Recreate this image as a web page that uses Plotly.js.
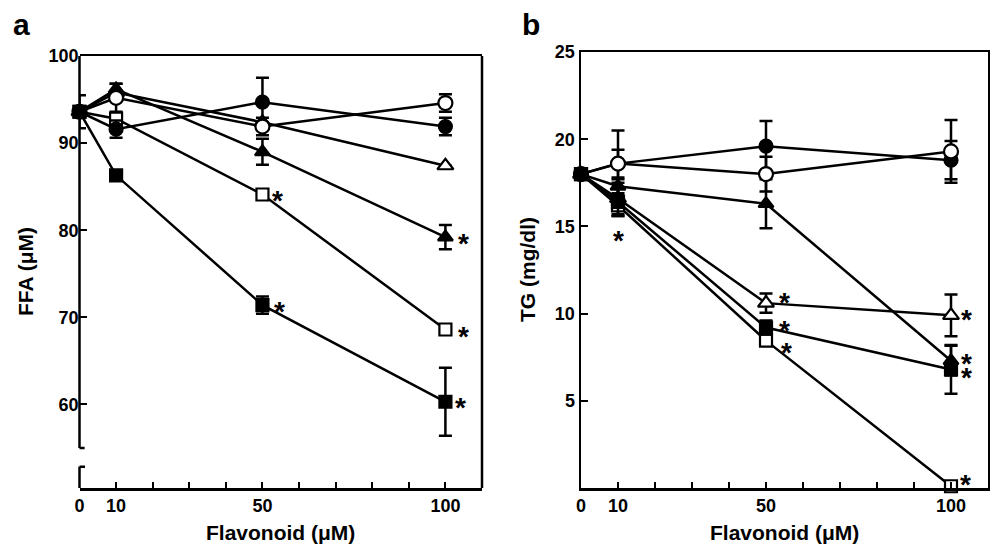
<!DOCTYPE html>
<html>
<head>
<meta charset="utf-8">
<script src="https://cdn.plot.ly/plotly-3.0.1.min.js"></script>
<style>html,body{margin:0;padding:0;background:#fff;}#chart{width:990px;height:545px;}</style>
</head>
<body>
<div id="chart"></div>
<script>
// ---------- data ----------
const doses = [0, 10, 50, 100];
const xTickVals = [0, 10, 20, 30, 40, 50, 60, 70, 80, 90, 100];
const xTickText = ['0', '10', '', '', '', '50', '', '', '', '', '100'];
const ffaTickVals = [60, 70, 80, 90, 100];
const tgTickVals = [5, 10, 15, 20, 25];

// Panel a: FFA (µM)
const ffaFilledCircle = [93.6, 91.6, 94.7, 91.9];
const ffaFilledCircleErr = [1.9, 1.0, 2.8, 1.0];
const ffaOpenCircle = [93.6, 95.2, 91.9, 94.6];
const ffaOpenCircleErr = [0, 1.6, 1.0, 1.0];
const ffaFilledTriangle = [93.6, 96.2, 89.0, 79.2];
const ffaFilledTriangleErr = [0, 0.6, 1.5, 1.4];
const ffaOpenTriangle = [93.6, 95.8, 92.4, 87.4];
const ffaOpenTriangleErr = [0, 0, 0, 0];
const ffaOpenSquare = [93.6, 92.8, 84.1, 68.6];
const ffaOpenSquareErr = [0, 0.5, 0, 0];
const ffaFilledSquare = [93.6, 86.3, 71.4, 60.3];
const ffaFilledSquareErr = [0, 0, 1.0, 3.9];

// Panel b: TG (mg/dl)
const tgFilledCircle = [18.0, 18.6, 19.6, 18.8];
const tgFilledCircleErr = [0, 0.8, 1.45, 1.1];
const tgOpenCircle = [18.0, 18.6, 18.0, 19.3];
const tgOpenCircleErr = [0, 1.9, 1.0, 1.8];
const tgFilledTriangle = [18.0, 17.3, 16.3, 7.3];
const tgFilledTriangleErr = [0, 0.4, 1.4, 0.85];
const tgOpenTriangle = [18.0, 16.6, 10.6, 9.9];
const tgOpenTriangleErr = [0, 0.9, 0.55, 1.2];
const tgOpenSquare = [18.0, 16.2, 8.45, 0.1];
const tgOpenSquareErr = [0, 0.6, 0, 0];
const tgFilledSquare = [18.0, 16.4, 9.2, 6.8];
const tgFilledSquareErr = [0, 0.8, 0.4, 1.4];

// axis break on panel a's y axis (value range that is cut out)
const ffaBreak = [52.85, 55.0];
const ffaRange = [50.4, 100];

// ---------- styling ----------
const FONT = 'Liberation Sans, Arial, Helvetica, sans-serif';
const styles = {
  filledCircle:   {symbol: 'circle', fill: 'black', size: 13},
  openCircle:     {symbol: 'circle', fill: 'white', size: 14},
  filledTriangle: {symbol: 'triangle-up', fill: 'black', size: 13},
  openTriangle:   {symbol: 'triangle-up', fill: 'white', size: 14},
  openSquare:     {symbol: 'square', fill: 'white', size: 12},
  filledSquare:   {symbol: 'square', fill: 'black', size: 12}
};

function mk(y, err, style, xa, ya) {
  const s = styles[style];
  return {
    x: doses, y: y, xaxis: xa, yaxis: ya, type: 'scatter', mode: 'lines+markers',
    showlegend: false, hoverinfo: 'skip', cliponaxis: false,
    line: {color: 'black', width: 2.5},
    marker: {symbol: s.symbol, size: s.size, color: s.fill, line: {color: 'black', width: 2.2}},
    error_y: {type: 'data', array: err, visible: true, color: 'black', thickness: 2.5, width: 6.5}
  };
}

const traces = [
  mk(ffaOpenTriangle, ffaOpenTriangleErr, 'openTriangle', 'x', 'y'),
  mk(ffaFilledTriangle, ffaFilledTriangleErr, 'filledTriangle', 'x', 'y'),
  mk(ffaOpenSquare, ffaOpenSquareErr, 'openSquare', 'x', 'y'),
  mk(ffaFilledCircle, ffaFilledCircleErr, 'filledCircle', 'x', 'y'),
  mk(ffaOpenCircle, ffaOpenCircleErr, 'openCircle', 'x', 'y'),
  mk(ffaFilledSquare, ffaFilledSquareErr, 'filledSquare', 'x', 'y'),

  mk(tgFilledTriangle, tgFilledTriangleErr, 'filledTriangle', 'x2', 'y2'),
  mk(tgOpenTriangle, tgOpenTriangleErr, 'openTriangle', 'x2', 'y2'),
  mk(tgOpenSquare, tgOpenSquareErr, 'openSquare', 'x2', 'y2'),
  mk(tgFilledCircle, tgFilledCircleErr, 'filledCircle', 'x2', 'y2'),
  mk(tgOpenCircle, tgOpenCircleErr, 'openCircle', 'x2', 'y2'),
  mk(tgFilledSquare, tgFilledSquareErr, 'filledSquare', 'x2', 'y2')
];

// significance stars: [series, dose index, axis suffix, dx px, dy px]
const stars = [
  [ffaOpenSquare, 2, '', 15, 1],
  [ffaFilledSquare, 2, '', 17, 1],
  [ffaFilledTriangle, 3, '', 18, 1],
  [ffaOpenSquare, 3, '', 18, 0],
  [ffaFilledSquare, 3, '', 15, 1],
  [tgFilledSquare, 1, '2', 0, -32],
  [tgOpenTriangle, 2, '2', 18, 8],
  [tgFilledSquare, 2, '2', 18, 4],
  [tgOpenSquare, 2, '2', 20, -5],
  [tgOpenTriangle, 3, '2', 15, 3],
  [tgFilledTriangle, 3, '2', 15, 4],
  [tgFilledSquare, 3, '2', 15, -1],
  [tgOpenSquare, 3, '2', 14, 9]
];

const annotations = stars.map(([ser, i, ax, dx, dy]) => ({
  x: doses[i], y: ser[i], xref: 'x' + ax, yref: 'y' + ax,
  text: '*', showarrow: false, xanchor: 'center', yanchor: 'middle',
  xshift: dx, yshift: dy - 7,
  font: {family: FONT, size: 28, color: 'black', weight: 'bold'}
}));

const titleFont = {family: FONT, size: 21, color: 'black', weight: 'bold'};
annotations.push(
  {text: 'Flavonoid (μM)', x: 0.5, y: 1 - 532 / 545, xref: 'x domain', yref: 'paper', showarrow: false,
   xanchor: 'center', yanchor: 'middle', font: titleFont},
  {text: 'Flavonoid (μM)', x: 0.5, y: 1 - 532 / 545, xref: 'x2 domain', yref: 'paper', showarrow: false,
   xanchor: 'center', yanchor: 'middle', font: titleFont},
  {text: 'FFA (μM)', x: 25 / 990, y: 0.5, xref: 'paper', yref: 'y domain', showarrow: false,
   textangle: -90, xanchor: 'center', yanchor: 'middle', font: titleFont},
  {text: 'TG (mg/dl)', x: 527 / 990, y: 0.5, xref: 'paper', yref: 'y2 domain', showarrow: false,
   textangle: -90, xanchor: 'center', yanchor: 'middle', font: titleFont},
  {text: 'a', x: 21 / 990, y: 1 - 24 / 545, xref: 'paper', yref: 'paper', showarrow: false,
   xanchor: 'center', yanchor: 'middle', font: {family: FONT, size: 30, color: 'black', weight: 'bold'}},
  {text: 'b', x: 531 / 990, y: 1 - 24 / 545, xref: 'paper', yref: 'paper', showarrow: false,
   xanchor: 'center', yanchor: 'middle', font: {family: FONT, size: 30, color: 'black', weight: 'bold'}}
);

const tickFont = {family: FONT, size: 18, color: 'black', weight: 'bold'};
const xaxisBase = {
  range: [0, 110], tickmode: 'array', tickvals: xTickVals, ticktext: xTickText,
  ticks: 'inside', ticklen: 6, tickwidth: 2, tickcolor: 'black',
  showline: true, mirror: true, linecolor: 'black', linewidth: 2.5,
  showgrid: false, zeroline: false, tickfont: tickFont, fixedrange: true
};
const yaxisBase = {
  tickmode: 'array', ticks: 'inside', ticklen: 7, tickwidth: 2, tickcolor: 'black',
  showline: true, mirror: true, linecolor: 'black', linewidth: 2.5,
  showgrid: false, zeroline: false, tickfont: tickFont, fixedrange: true
};

const axLine = {color: 'black', width: 2.5};
const layout = {
  width: 990, height: 545,
  margin: {l: 0, r: 0, t: 0, b: 0},
  paper_bgcolor: 'white', plot_bgcolor: 'white',
  showlegend: false,
  xaxis: Object.assign({}, xaxisBase, {domain: [79.5 / 990, 482 / 990], anchor: 'y'}),
  yaxis: Object.assign({}, yaxisBase, {domain: [1 - 488 / 545, 1 - 56 / 545], anchor: 'x',
    range: ffaRange, tickvals: ffaTickVals, showline: false}),
  xaxis2: Object.assign({}, xaxisBase, {domain: [581 / 990, 988 / 990], anchor: 'y2'}),
  yaxis2: Object.assign({}, yaxisBase, {domain: [1 - 488 / 545, 1 - 52 / 545], anchor: 'x2',
    range: [0, 25], tickvals: tgTickVals}),
  annotations: annotations,
  shapes: [
    // panel a: broken left axis drawn as segments, plus right frame line
    {type: 'line', xref: 'x domain', yref: 'y', x0: 0, x1: 0, y0: ffaBreak[1], y1: ffaRange[1], line: axLine},
    {type: 'line', xref: 'x domain', yref: 'y', x0: 0, x1: 0, y0: ffaRange[0], y1: ffaBreak[0], line: axLine},
    {type: 'line', xref: 'x domain', yref: 'y', x0: 1, x1: 1, y0: ffaRange[0], y1: ffaRange[1], line: axLine},
    {type: 'line', xref: 'x', yref: 'y', x0: -1.4, x1: 1.4, y0: ffaBreak[1], y1: ffaBreak[1], line: axLine},
    {type: 'line', xref: 'x', yref: 'y', x0: -0.9, x1: 1.5, y0: ffaBreak[0], y1: ffaBreak[0], line: axLine}
  ]
};

Plotly.newPlot('chart', traces, layout, {staticPlot: true, displayModeBar: false});
</script>
</body>
</html>
